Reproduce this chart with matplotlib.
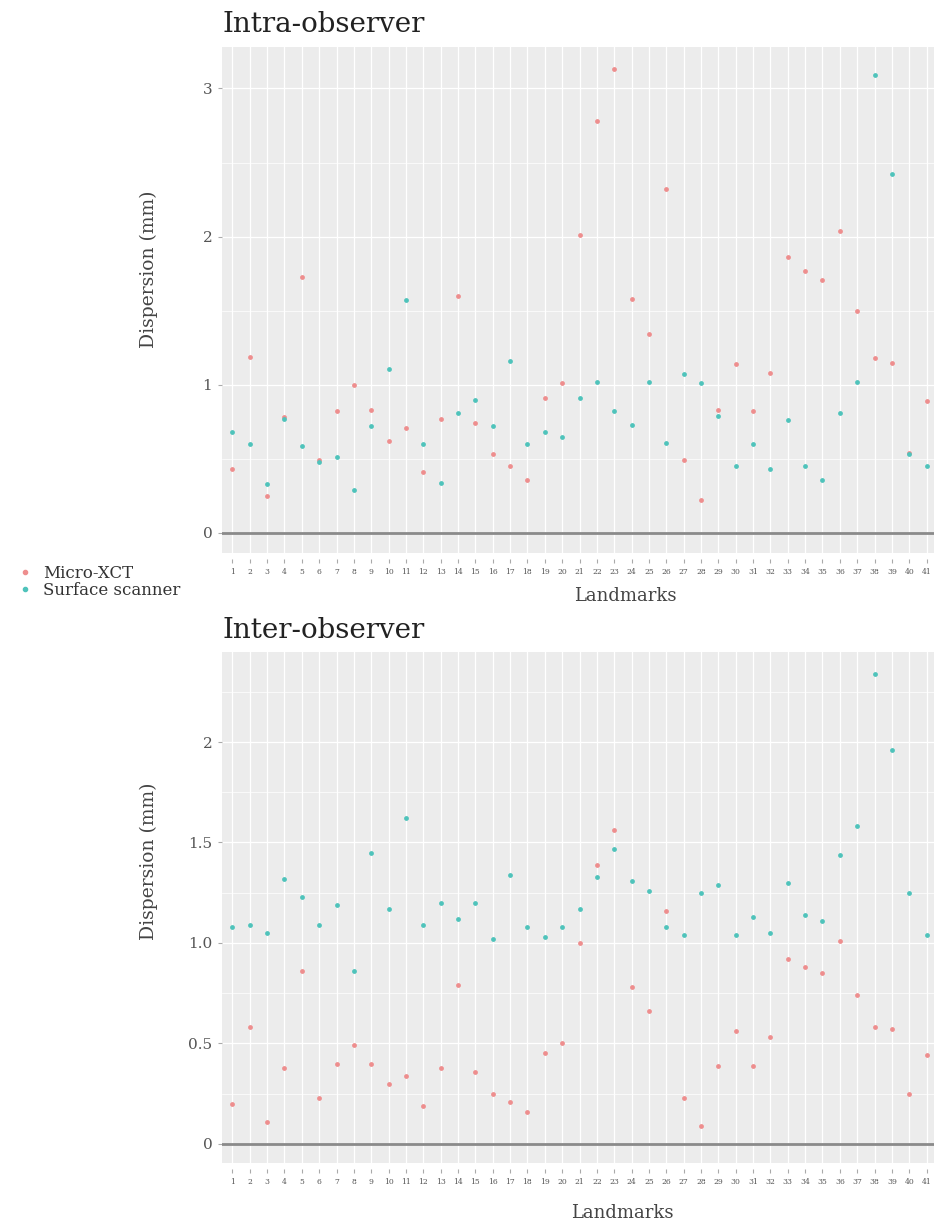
import matplotlib.pyplot as plt
from matplotlib.lines import Line2D

# landmark ids 1..41
landmarks = list(range(1, 42))

# --- intra-observer dispersion (mm) ---
intra_micro = [0.43, 1.19, 0.25, 0.78, 1.73, 0.49, 0.82, 1.00, 0.83, 0.62,
               0.71, 0.41, 0.77, 1.60, 0.74, 0.53, 0.45, 0.36, 0.91, 1.01,
               2.01, 2.78, 3.13, 1.58, 1.34, 2.32, 0.49, 0.22, 0.83, 1.14,
               0.82, 1.08, 1.86, 1.77, 1.71, 2.04, 1.50, 1.18, 1.15, 0.54,
               0.89]
intra_surface = [0.68, 0.60, 0.33, 0.77, 0.59, 0.48, 0.51, 0.29, 0.72, 1.11,
                 1.57, 0.60, 0.34, 0.81, 0.90, 0.72, 1.16, 0.60, 0.68, 0.65,
                 0.91, 1.02, 0.82, 0.73, 1.02, 0.61, 1.07, 1.01, 0.79, 0.45,
                 0.60, 0.43, 0.76, 0.45, 0.36, 0.81, 1.02, 3.09, 2.42, 0.53,
                 0.45]

# --- inter-observer dispersion (mm) ---
inter_micro = [0.20, 0.58, 0.11, 0.38, 0.86, 0.23, 0.40, 0.49, 0.40, 0.30,
               0.34, 0.19, 0.38, 0.79, 0.36, 0.25, 0.21, 0.16, 0.45, 0.50,
               1.00, 1.39, 1.56, 0.78, 0.66, 1.16, 0.23, 0.09, 0.39, 0.56,
               0.39, 0.53, 0.92, 0.88, 0.85, 1.01, 0.74, 0.58, 0.57, 0.25,
               0.44]
inter_surface = [1.08, 1.09, 1.05, 1.32, 1.23, 1.09, 1.19, 0.86, 1.45, 1.17,
                 1.62, 1.09, 1.20, 1.12, 1.20, 1.02, 1.34, 1.08, 1.03, 1.08,
                 1.17, 1.33, 1.47, 1.31, 1.26, 1.08, 1.04, 1.25, 1.29, 1.04,
                 1.13, 1.05, 1.30, 1.14, 1.11, 1.44, 1.58, 2.34, 1.96, 1.25,
                 1.04]

series_names = ["Micro-XCT", "Surface scanner"]
c_micro = "#ee8e8e"
c_surf = "#4fc3bb"

plt.rcParams['font.family'] = ['DejaVu Serif']

W, H = 934, 1232
fig = plt.figure(figsize=(W / 100, H / 100), dpi=100)


def panel(top_px, bot_px, ylim, major, minor, micro, surf):
    ax = fig.add_axes([222 / W, 1 - bot_px / H, 715 / W, (bot_px - top_px) / H])
    ax.set_facecolor("#ececec")
    for s in ax.spines.values():
        s.set_visible(False)
    # ticks sit a little below the panel, as in the original
    ax.spines['bottom'].set_position(('outward', 4.5))
    ax.set_xlim(0.4, 41.6)
    ax.set_ylim(*ylim)
    ax.set_xticks(landmarks)
    ax.set_xticklabels([str(i) for i in landmarks], fontsize=5.5, color="#555555")
    ax.set_yticks(major)
    ax.set_yticks(minor, minor=True)
    ax.grid(True, which="major", color="white", lw=0.9)
    ax.grid(True, which="minor", axis="y", color="white", lw=0.5)
    ax.set_axisbelow(True)
    ax.tick_params(axis="x", length=3, color="#aaaaaa", pad=3)
    ax.tick_params(axis="y", length=3, color="#aaaaaa", labelsize=11,
                   labelcolor="#555555", pad=4)
    ax.tick_params(axis="y", which="minor", length=0)
    ax.axhline(0, color="#8a8a8a", lw=2, zorder=1)
    ax.scatter(landmarks, micro, s=12, color=c_micro, zorder=3, linewidths=0)
    ax.scatter(landmarks, surf, s=12, color=c_surf, zorder=3, linewidths=0)
    ax.set_ylabel("Dispersion (mm)", fontsize=13.5, color="#444444")
    return ax


ax1 = panel(47, 553, (-0.135, 3.28), [0, 1, 2, 3], [0.5, 1.5, 2.5],
            intra_micro, intra_surface)
ax1.set_yticklabels(["0", "1", "2", "3"])
ax1.yaxis.set_label_coords(-0.09, 0.56)

ax2 = panel(652, 1163, (-0.095, 2.448), [0, 0.5, 1.0, 1.5, 2.0],
            [0.25, 0.75, 1.25, 1.75, 2.25], inter_micro, inter_surface)
ax2.set_yticklabels(["0", "0.5", "1.0", "1.5", "2"])
ax2.yaxis.set_label_coords(-0.09, 0.59)

# titles and x labels
fig.text(223 / W, 1 - 24 / H, "Intra-observer", fontsize=20, ha="left",
         va="center", color="#222222")
fig.text(223 / W, 1 - 631 / H, "Inter-observer", fontsize=20, ha="left",
         va="center", color="#222222")
fig.text(625 / W, 1 - 596 / H, "Landmarks", fontsize=13, ha="center",
         va="center", color="#444444")
fig.text(622 / W, 1 - 1213 / H, "Landmarks", fontsize=13, ha="center",
         va="center", color="#444444")

# legend on the left, between panels
handles = [Line2D([], [], ls="", marker="o", ms=3, color=c_micro),
           Line2D([], [], ls="", marker="o", ms=3, color=c_surf)]
fig.legend(handles, series_names, loc="upper left",
           bbox_to_anchor=(0.0, 1 - 553 / H), frameon=False, fontsize=12,
           handletextpad=0.3, labelspacing=0.0, borderaxespad=0.3,
           handlelength=1.6, labelcolor="#333333")

fig.savefig("out.png", dpi=100)
